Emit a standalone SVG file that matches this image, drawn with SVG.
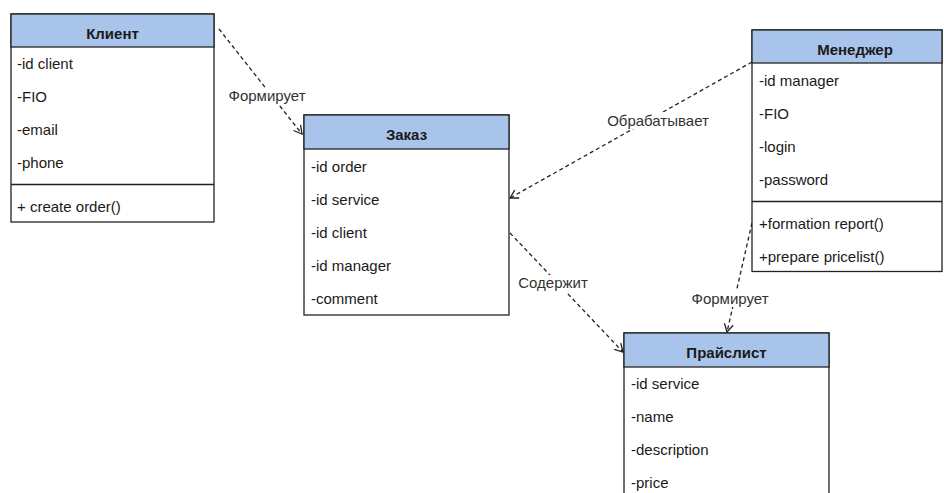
<svg xmlns="http://www.w3.org/2000/svg" width="944" height="493" viewBox="0 0 944 493">
  <style>
    .box { fill: #ffffff; stroke: #222222; stroke-width: 1.3; }
    .head { fill: #a9c4eb; stroke: #222222; stroke-width: 1.3; }
    .sep { stroke: #222222; stroke-width: 1.3; }
    .title { font-family: "Liberation Sans", Arial, sans-serif; font-size: 15px; font-weight: bold; fill: #1a1a1a; text-anchor: middle; }
    .row { font-family: "Liberation Sans", Arial, sans-serif; font-size: 15px; fill: #1a1a1a; }
    .edge { fill: none; stroke: #222222; stroke-width: 1.3; stroke-dasharray: 4 3; marker-end: url(#open); }
    .lbl-bg { fill: #ffffff; }
    .lbl { font-family: "Liberation Sans", Arial, sans-serif; font-size: 15px; fill: #333333; text-anchor: middle; }
  </style>
  <defs>
    <marker id="open" markerUnits="userSpaceOnUse" markerWidth="12" markerHeight="12" viewBox="0 0 12 12" refX="10" refY="6" orient="auto">
      <path d="M2,1.5 L10,6 L2,10.5" fill="none" stroke="#222222" stroke-width="1.3" stroke-dasharray="none"/>
    </marker>
  </defs>

  <rect width="944" height="493" fill="#ffffff"/>

  <!-- dependency connectors with their labels -->
  <g id="connectors">
    <path class="edge" d="M219,29 L302,134"/>
    <path class="edge" d="M752,62 L510,198"/>
    <path class="edge" d="M510,233 L623,352"/>
    <path class="edge" d="M752,223 L727,332"/>

    <rect class="lbl-bg" x="228" y="88" width="78" height="17"/>
    <text class="lbl" x="267" y="101">Формирует</text>

    <rect class="lbl-bg" x="604" y="112" width="108" height="17"/>
    <text class="lbl" x="658" y="126">Обрабатывает</text>

    <rect class="lbl-bg" x="517" y="275" width="72" height="17"/>
    <text class="lbl" x="553" y="288">Содержит</text>

    <rect class="lbl-bg" x="691" y="290" width="78" height="17"/>
    <text class="lbl" x="730" y="304">Формирует</text>
  </g>

  <!-- class: Клиент -->
  <g id="client">
    <rect class="box" x="11" y="14" width="203" height="208"/>
    <rect class="head" x="11" y="14" width="203" height="33"/>
    <text class="title" x="112.5" y="38.5">Клиент</text>
    <text class="row" x="17" y="69">-id client</text>
    <text class="row" x="17" y="102">-FIO</text>
    <text class="row" x="17" y="135">-email</text>
    <text class="row" x="17" y="168">-phone</text>
    <line class="sep" x1="11" y1="184.5" x2="214" y2="184.5"/>
    <text class="row" x="17" y="212">+ create order()</text>
  </g>

  <!-- class: Заказ -->
  <g id="order">
    <rect class="box" x="304" y="115" width="205" height="200"/>
    <rect class="head" x="304" y="115" width="205" height="34"/>
    <text class="title" x="406.5" y="140">Заказ</text>
    <text class="row" x="311" y="171.5">-id order</text>
    <text class="row" x="311" y="204.7">-id service</text>
    <text class="row" x="311" y="237.9">-id client</text>
    <text class="row" x="311" y="271.1">-id manager</text>
    <text class="row" x="311" y="304.3">-comment</text>
  </g>

  <!-- class: Менеджер -->
  <g id="manager">
    <rect class="box" x="752" y="30" width="190" height="241.5"/>
    <rect class="head" x="752" y="30" width="190" height="33"/>
    <text class="title" x="855" y="54.5">Менеджер</text>
    <text class="row" x="759" y="85.5">-id manager</text>
    <text class="row" x="759" y="118.5">-FIO</text>
    <text class="row" x="759" y="151.5">-login</text>
    <text class="row" x="759" y="184.5">-password</text>
    <line class="sep" x1="752" y1="201.5" x2="942" y2="201.5"/>
    <text class="row" x="759" y="229">+formation report()</text>
    <text class="row" x="759" y="262">+prepare pricelist()</text>
  </g>

  <!-- class: Прайслист -->
  <g id="pricelist">
    <rect class="box" x="624" y="333" width="205" height="180"/>
    <rect class="head" x="624" y="333" width="205" height="34"/>
    <text class="title" x="726.5" y="357.5">Прайслист</text>
    <text class="row" x="631" y="389">-id service</text>
    <text class="row" x="631" y="422">-name</text>
    <text class="row" x="631" y="455">-description</text>
    <text class="row" x="631" y="488">-price</text>
  </g>
</svg>
